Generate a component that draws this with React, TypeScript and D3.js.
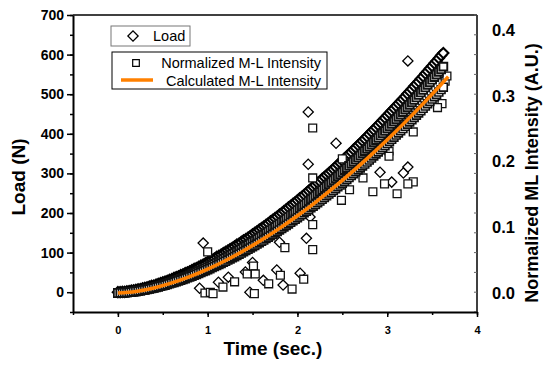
import React, { useEffect, useRef } from 'react';
import * as d3 from 'd3';

// sample times (s) of the recorded series
const sampleTimes = [
  0, 0.025, 0.05, 0.075, 0.1, 0.125, 0.15, 0.175, 0.2, 0.225, 0.25, 0.275, 0.3, 0.325, 0.35, 0.375, 0.4, 0.425, 0.45, 0.475,
  0.5, 0.525, 0.55, 0.575, 0.6, 0.625, 0.65, 0.675, 0.7, 0.725, 0.75, 0.775, 0.8, 0.825, 0.85, 0.875, 0.9, 0.925, 0.95, 0.975,
  1, 1.025, 1.05, 1.075, 1.1, 1.125, 1.15, 1.175, 1.2, 1.225, 1.25, 1.275, 1.3, 1.325, 1.35, 1.375, 1.4, 1.425, 1.45, 1.475,
  1.5, 1.525, 1.55, 1.575, 1.6, 1.625, 1.65, 1.675, 1.7, 1.725, 1.75, 1.775, 1.8, 1.825, 1.85, 1.875, 1.9, 1.925, 1.95, 1.975,
  2, 2.025, 2.05, 2.075, 2.1, 2.125, 2.15, 2.175, 2.2, 2.225, 2.25, 2.275, 2.3, 2.325, 2.35, 2.375, 2.4, 2.425, 2.45, 2.475,
  2.5, 2.525, 2.55, 2.575, 2.6, 2.625, 2.65, 2.675, 2.7, 2.725, 2.75, 2.775, 2.8, 2.825, 2.85, 2.875, 2.9, 2.925, 2.95, 2.975,
  3, 3.025, 3.05, 3.075, 3.1, 3.125, 3.15, 3.175, 3.2, 3.225, 3.25, 3.275, 3.3, 3.325, 3.35, 3.375, 3.4, 3.425, 3.45, 3.475,
  3.5, 3.525, 3.55, 3.575, 3.6, 3.625,
];

// Load (N)
const loadValues = [
  0, 0, 1, 1, 2, 3, 4, 5, 6, 7, 8, 10, 11, 12, 14, 16, 17, 19, 21, 23,
  25, 27, 29, 31, 33, 36, 38, 40, 43, 45, 48, 50, 53, 56, 59, 61, 64, 67, 70, 73,
  76, 79, 82, 85, 89, 92, 95, 99, 102, 105, 109, 112, 116, 120, 123, 127, 131, 134, 138, 142,
  146, 150, 154, 158, 162, 166, 170, 174, 179, 183, 187, 191, 196, 200, 205, 209, 214, 218, 223, 227,
  232, 237, 241, 246, 251, 256, 261, 266, 271, 276, 280, 286, 291, 296, 301, 306, 311, 316, 322, 327,
  332, 338, 343, 349, 354, 360, 365, 371, 376, 382, 387, 393, 399, 405, 410, 416, 422, 428, 434, 440,
  446, 452, 458, 464, 470, 476, 482, 488, 494, 501, 507, 513, 520, 526, 532, 539, 545, 552, 558, 565,
  571, 578, 584, 591, 598, 604,
];

// Normalized M-L intensity (A.U.), lower edge of the square band
const mlValues = [
  0, 0.0001, 0.0002, 0.0004, 0.0007, 0.0011, 0.0014, 0.0019, 0.0023, 0.0029, 0.0034, 0.004, 0.0046, 0.0053, 0.006, 0.0068, 0.0075, 0.0084, 0.0092, 0.0101,
  0.011, 0.0119, 0.0129, 0.0139, 0.015, 0.016, 0.0171, 0.0183, 0.0194, 0.0206, 0.0218, 0.0231, 0.0244, 0.0256, 0.027, 0.0283, 0.0297, 0.0311, 0.0326, 0.034,
  0.0355, 0.037, 0.0386, 0.0401, 0.0417, 0.0433, 0.045, 0.0466, 0.0483, 0.05, 0.0518, 0.0535, 0.0553, 0.0571, 0.059, 0.0608, 0.0627, 0.0646, 0.0665, 0.0685,
  0.0705, 0.0724, 0.0745, 0.0765, 0.0786, 0.0806, 0.0828, 0.0849, 0.087, 0.0892, 0.0914, 0.0936, 0.0959, 0.0981, 0.1004, 0.1027, 0.105, 0.1074, 0.1097, 0.1121,
  0.1146, 0.117, 0.1194, 0.1219, 0.1244, 0.1269, 0.1295, 0.132, 0.1346, 0.1372, 0.1398, 0.1424, 0.1451, 0.1477, 0.1504, 0.1532, 0.1559, 0.1586, 0.1614, 0.1642,
  0.167, 0.1699, 0.1727, 0.1756, 0.1785, 0.1814, 0.1843, 0.1872, 0.1902, 0.1932, 0.1962, 0.1992, 0.2022, 0.2053, 0.2084, 0.2115, 0.2146, 0.2178, 0.2209, 0.2241,
  0.2273, 0.2305, 0.2337, 0.237, 0.2402, 0.2435, 0.2468, 0.2501, 0.2535, 0.2568, 0.2602, 0.2636, 0.267, 0.2704, 0.2739, 0.2773, 0.2808, 0.2843, 0.2879, 0.2914,
  0.2949, 0.2985, 0.302, 0.3057, 0.3093, 0.313,
];

// Normalized M-L intensity (A.U.), upper edge of the square band
const mlUpperValues = [
  0, 0.0001, 0.0002, 0.0004, 0.0008, 0.0012, 0.0015, 0.0021, 0.0025, 0.0032, 0.0037, 0.0044, 0.0051, 0.0058, 0.0066, 0.0075, 0.0083, 0.0092, 0.0101, 0.0111,
  0.0121, 0.0131, 0.0142, 0.0153, 0.0165, 0.0176, 0.0188, 0.0201, 0.0213, 0.0227, 0.024, 0.0254, 0.0268, 0.0282, 0.0297, 0.0311, 0.0327, 0.0342, 0.0359, 0.0374,
  0.0391, 0.0407, 0.0425, 0.0441, 0.0459, 0.0476, 0.0495, 0.0513, 0.0531, 0.055, 0.057, 0.0589, 0.0608, 0.0628, 0.0649, 0.0669, 0.069, 0.0711, 0.0732, 0.0754,
  0.0776, 0.0796, 0.082, 0.0842, 0.0865, 0.0887, 0.0911, 0.0934, 0.0957, 0.0981, 0.1005, 0.103, 0.1055, 0.1079, 0.1104, 0.113, 0.1155, 0.1181, 0.1207, 0.1233,
  0.1261, 0.1287, 0.1313, 0.1341, 0.1368, 0.1396, 0.1425, 0.1452, 0.1481, 0.1509, 0.1538, 0.1566, 0.1596, 0.1625, 0.1654, 0.1685, 0.1715, 0.1745, 0.1775, 0.1806,
  0.1837, 0.1869, 0.19, 0.1932, 0.1964, 0.1995, 0.2027, 0.2059, 0.2092, 0.2125, 0.2158, 0.2191, 0.2224, 0.2258, 0.2292, 0.2327, 0.2361, 0.2396, 0.243, 0.2465,
  0.25, 0.2536, 0.2571, 0.2607, 0.2642, 0.2679, 0.2715, 0.2751, 0.2789, 0.2825, 0.2862, 0.29, 0.2937, 0.2974, 0.3013, 0.305, 0.3089, 0.3127, 0.3167, 0.3205,
  0.3244, 0.3284, 0.3322, 0.3363, 0.3402, 0.3443,
];

// scattered load points
const loadScatterTimes = [0.95, 0.91, 1.12, 1.23, 1.42, 1.5, 1.47, 1.62, 1.77, 1.8, 1.84, 2.03, 2.1, 2.14, 2.12, 2.12, 2.43, 2.92, 3.05, 3.23, 3.18, 3.23];
const loadScatterValues = [124, 10, 25, 38, 51, 75, 0, 30, 56, 126, 18, 48, 136, 190, 323, 455, 376, 303, 278, 316, 301, 584];

// scattered M-L points
const mlScatterTimes = [
  1.0, 0.97, 1.03, 1.06, 1.17, 1.3, 1.44, 1.51, 1.53, 1.52, 1.68, 1.81, 1.86, 1.94, 2.07, 2.17, 2.17, 2.17, 2.17,
  2.5, 2.49, 2.58, 2.73, 2.84, 3.02, 3.02, 3.11, 2.97, 3.29, 3.23, 3.29, 3.61, 3.56, 3.645, 3.665,
];
const mlScatterValues = [
  0.0626, 0, 0.001, -0.001, 0.009, 0.017, 0.029, 0.041, 0.029, -0.001, 0.014, 0.027, 0.069, 0.006, 0.021, 0.066,
  0.104, 0.175, 0.251, 0.204, 0.141, 0.157, 0.175, 0.154, 0.216, 0.208, 0.151, 0.166, 0.169, 0.166, 0.245, 0.288,
  0.282, 0.322, 0.33,
];

// calculated M-L intensity curve
const calcTimes = [0, 0.2, 0.4, 0.6, 0.8, 1, 1.2, 1.4, 1.6, 1.8, 2, 2.2, 2.4, 2.6, 2.8, 3, 3.2, 3.4, 3.6, 3.68];
const calcValues = [0, 0.0024, 0.0077, 0.0154, 0.025, 0.0364, 0.0495, 0.0643, 0.0806, 0.0983, 0.1175, 0.138, 0.1598, 0.183, 0.2074, 0.2331, 0.2599, 0.288, 0.3171, 0.329];

const leftTicks = [0, 100, 200, 300, 400, 500, 600, 700];
const rightTicks = [0, 0.1, 0.2, 0.3, 0.4];
const timeTicks = [0, 1, 2, 3, 4];

const W = 543;
const H = 371;
const FONT = '"Liberation Sans", Arial, Helvetica, sans-serif';
const ORANGE = '#ff8000';

function drawChart(node: SVGSVGElement) {
  const svg = d3.select(node);
  svg.selectAll('*').remove();

  const x = d3.scaleLinear().domain([-0.5, 4]).range([73, 477]);
  const y = d3.scaleLinear().domain([-50, 700]).range([312, 15]);
  const yR = d3.scaleLinear().domain([0, 0.4]).range([293, 30]);

  // frame: top and right
  svg.append('line').attr('x1', x(-0.5)).attr('x2', x(4)).attr('y1', y(700)).attr('y2', y(700))
    .attr('stroke', '#000').attr('stroke-width', 1.5);
  svg.append('line').attr('x1', x(4)).attr('x2', x(4)).attr('y1', y(700)).attr('y2', y(-50))
    .attr('stroke', '#000').attr('stroke-width', 1.5);
  // little inward ticks on the right edge
  svg.append('g').selectAll('line').data(d3.range(-50, 701, 50)).enter().append('line')
    .attr('x1', x(4)).attr('x2', x(4) - 3).attr('y1', d => y(d)).attr('y2', d => y(d))
    .attr('stroke', '#666').attr('stroke-width', 1);

  // left axis
  const gLminor = svg.append('g').attr('transform', `translate(${x(-0.5)},0)`)
    .call(d3.axisLeft(y).tickValues(d3.range(-50, 701, 50)).tickSize(3).tickSizeOuter(0).tickFormat(() => ''));
  gLminor.select('.domain').remove();
  gLminor.selectAll('line').attr('stroke-width', 1.5);
  const gL = svg.append('g').attr('transform', `translate(${x(-0.5)},0)`)
    .call(d3.axisLeft(y).tickValues(leftTicks).tickSize(6).tickSizeOuter(0).tickPadding(3));
  gL.select('.domain').attr('stroke-width', 2);
  gL.selectAll('line').attr('stroke-width', 1.5);
  gL.selectAll('text').attr('font-family', FONT).attr('font-size', 14).attr('font-weight', 'bold').attr('fill', '#000');

  // bottom axis
  const gBminor = svg.append('g').attr('transform', `translate(0,${y(-50)})`)
    .call(d3.axisBottom(x).tickValues(d3.range(-0.5, 4.01, 0.5)).tickSize(3).tickSizeOuter(0).tickFormat(() => ''));
  gBminor.select('.domain').remove();
  gBminor.selectAll('line').attr('stroke-width', 1.5);
  const gB = svg.append('g').attr('transform', `translate(0,${y(-50)})`)
    .call(d3.axisBottom(x).tickValues(timeTicks).tickSize(5).tickSizeOuter(0).tickPadding(9).tickFormat(d3.format('d')));
  gB.select('.domain').attr('stroke-width', 2);
  gB.selectAll('line').attr('stroke-width', 1.5);
  gB.selectAll('text').attr('font-family', FONT).attr('font-size', 11).attr('font-weight', 'bold').attr('fill', '#000');

  // right-hand labels
  svg.append('g').selectAll('text').data(rightTicks).enter().append('text')
    .attr('x', 492).attr('y', d => yR(d)).attr('dy', '0.36em')
    .attr('font-family', FONT).attr('font-size', 16.5).attr('font-weight', 'bold')
    .text(d => d3.format('.1f')(d));

  // axis titles
  svg.append('text').attr('transform', 'translate(25,177) rotate(-90)').attr('text-anchor', 'middle')
    .attr('font-family', FONT).attr('font-size', 19).attr('font-weight', 'bold').text('Load (N)');
  svg.append('text').attr('x', 273).attr('y', 355).attr('text-anchor', 'middle')
    .attr('font-family', FONT).attr('font-size', 19).attr('font-weight', 'bold').text('Time (sec.)');
  svg.append('text').attr('transform', 'translate(538,173) rotate(-90)').attr('text-anchor', 'middle')
    .attr('font-family', FONT).attr('font-size', 18).attr('font-weight', 'bold').text('Normalized ML Intensity (A.U.)');

  const diamond = d3.symbol().type(d3.symbolSquare).size(52);
  const square = d3.symbol().type(d3.symbolSquare).size(62);

  const loadMain = sampleTimes.map((t, i) => [t, loadValues[i]]);
  const loadScatter = loadScatterTimes.map((t, i) => [t, loadScatterValues[i]]);
  const mlMain = sampleTimes.map((t, i) => [t, mlValues[i]]);
  const mlUpper = sampleTimes.map((t, i) => [t, mlUpperValues[i]]);
  const mlScatter = mlScatterTimes.map((t, i) => [t, mlScatterValues[i]]);

  const drawDiamonds = (pts: number[][], sw: number) =>
    svg.append('g').selectAll('path').data(pts).enter().append('path')
      .attr('d', diamond)
      .attr('transform', d => `translate(${x(d[0])},${y(d[1])}) rotate(45)`)
      .attr('fill', '#fff').attr('stroke', '#000').attr('stroke-width', sw);
  const drawSquares = (pts: number[][], sw: number) =>
    svg.append('g').selectAll('path').data(pts).enter().append('path')
      .attr('d', square)
      .attr('transform', d => `translate(${x(d[0])},${yR(d[1])})`)
      .attr('fill', '#fff').attr('stroke', '#111').attr('stroke-width', sw);

  drawDiamonds(loadScatter, 1.3);
  drawDiamonds(loadMain, 2.1);
  drawSquares(mlScatter, 1.3);
  drawSquares(mlUpper, 1.9);
  drawSquares(mlMain, 1.6);

  const calcLine = d3.line<number>()
    .x((d, i) => x(calcTimes[i]))
    .y(d => yR(d))
    .curve(d3.curveMonotoneX);
  svg.append('path').datum(calcValues).attr('d', calcLine)
    .attr('fill', 'none').attr('stroke', ORANGE).attr('stroke-width', 3.5);

  // legends
  svg.append('rect').attr('x', 111).attr('y', 26).attr('width', 79).attr('height', 20)
    .attr('fill', '#fff').attr('stroke', '#777').attr('stroke-width', 1);
  svg.append('path').attr('d', diamond).attr('transform', 'translate(133,36) rotate(45)')
    .attr('fill', '#fff').attr('stroke', '#000').attr('stroke-width', 1.3);
  svg.append('text').attr('x', 153).attr('y', 41).attr('font-family', FONT).attr('font-size', 14.5).text('Load');

  svg.append('rect').attr('x', 112).attr('y', 52).attr('width', 215).attr('height', 37)
    .attr('fill', '#fff').attr('stroke', '#000').attr('stroke-width', 1);
  svg.append('path').attr('d', d3.symbol().type(d3.symbolSquare).size(44)).attr('transform', 'translate(136,63)')
    .attr('fill', '#fff').attr('stroke', '#000').attr('stroke-width', 1.2);
  svg.append('text').attr('x', 321).attr('y', 68).attr('text-anchor', 'end')
    .attr('font-family', FONT).attr('font-size', 14.5).text('Normalized M-L Intensity');
  svg.append('line').attr('x1', 121).attr('x2', 153).attr('y1', 80).attr('y2', 80)
    .attr('stroke', ORANGE).attr('stroke-width', 3.5);
  svg.append('text').attr('x', 321).attr('y', 86).attr('text-anchor', 'end')
    .attr('font-family', FONT).attr('font-size', 14.5).text('Calculated M-L Intensity');
}

export default function App() {
  const ref = useRef<SVGSVGElement>(null);
  useEffect(() => {
    if (ref.current) drawChart(ref.current);
  }, []);
  return (
    <svg ref={ref} width={W} height={H}
      style={{ position: 'absolute', left: 0, top: 0, background: '#fff' }} />
  );
}
